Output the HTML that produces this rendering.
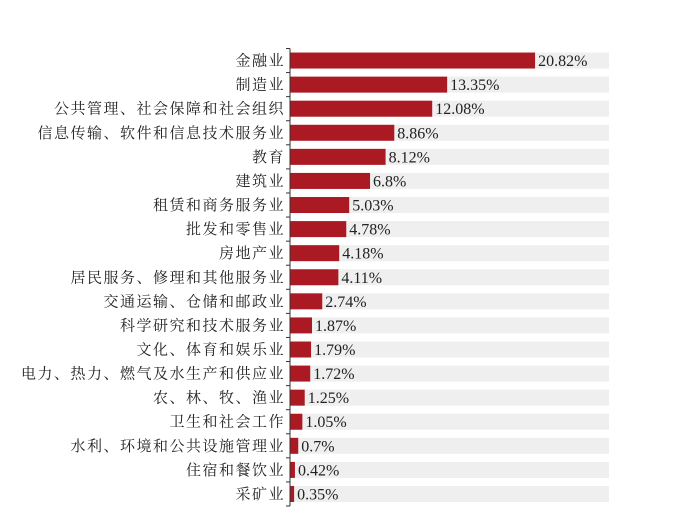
<!DOCTYPE html>
<html><head><meta charset="utf-8"><style>
html,body{margin:0;padding:0;background:#fff;width:688px;height:528px;overflow:hidden}
svg text{font-family:"Liberation Serif","Noto Serif CJK SC",serif;fill:#222}
.cat{font-size:15px;letter-spacing:1.5px;font-family:"Noto Serif CJK SC","Liberation Serif",serif}
.val{font-size:16px}
</style></head><body>
<svg width="688" height="528" id="c"></svg>
<script>
const categories=["金融业","制造业","公共管理、社会保障和社会组织","信息传输、软件和信息技术服务业","教育","建筑业","租赁和商务服务业","批发和零售业","房地产业","居民服务、修理和其他服务业","交通运输、仓储和邮政业","科学研究和技术服务业","文化、体育和娱乐业","电力、热力、燃气及水生产和供应业","农、林、牧、渔业","卫生和社会工作","水利、环境和公共设施管理业","住宿和餐饮业","采矿业"];
const values=[20.82,13.35,12.08,8.86,8.12,6.8,5.03,4.78,4.18,4.11,2.74,1.87,1.79,1.72,1.25,1.05,0.7,0.42,0.35];
const labels=["20.82%","13.35%","12.08%","8.86%","8.12%","6.8%","5.03%","4.78%","4.18%","4.11%","2.74%","1.87%","1.79%","1.72%","1.25%","1.05%","0.7%","0.42%","0.35%"];
const axisMax=27.1;
const svg=document.getElementById('c');const NS="http://www.w3.org/2000/svg";
const x0=290,x1=609,yTop=48.5,step=24.08,bh=16;
const xs=v=>x0+(v/axisMax)*(x1-x0);
const yc=i=>yTop+step*(i+0.5);
function mk(t,a){const e=document.createElementNS(NS,t);for(const k in a)e.setAttribute(k,a[k]);svg.appendChild(e);return e;}
categories.forEach((c,i)=>{
 const y=yc(i);
 const tr=mk('rect',{x:x0,y:y-bh/2,width:x1-x0,height:bh,fill:'#efefef'});
 
 
 const b=mk('rect',{x:x0,y:y-bh/2,width:xs(values[i])-x0,height:bh,fill:'#ab1a22'});
 
 
 const l=mk('text',{x:285,y:y+5,'text-anchor':'end','class':'cat'});l.textContent=c;
 
 
 const v=mk('text',{x:xs(values[i])+3,y:y+5.5,'class':'val'});v.textContent=labels[i];
 
 
});
const ax=mk('line',{x1:x0,x2:x0,y1:yTop,y2:yTop+step*categories.length,stroke:'#333','stroke-width':1});


for(let i=0;i<=categories.length;i++){
 const t=mk('line',{x1:x0-4,x2:x0,y1:yTop+step*i,y2:yTop+step*i,stroke:'#333','stroke-width':1});
 
 
}
</script>
</body></html>
